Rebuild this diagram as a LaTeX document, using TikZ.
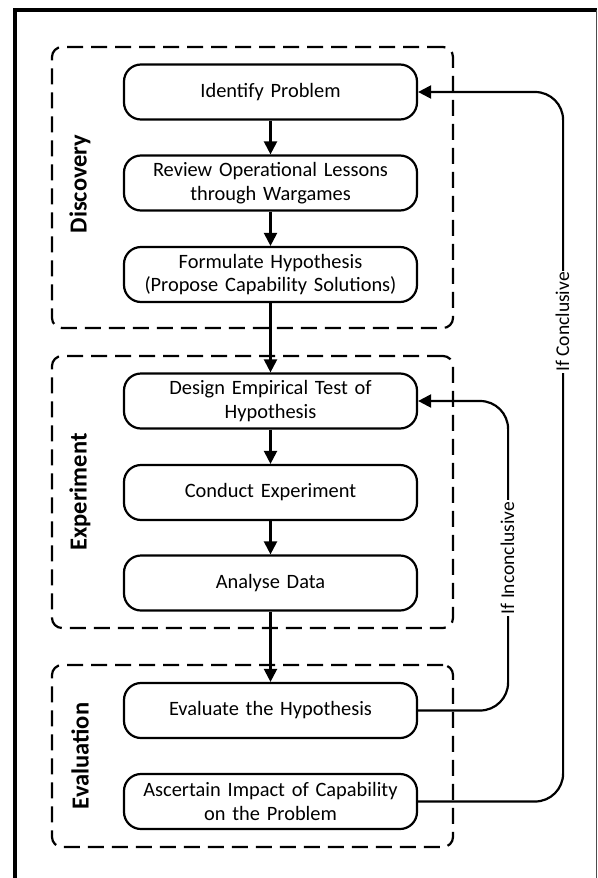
\documentclass[tikz,border=0pt]{standalone}
\usepackage{fontspec}
\setmainfont{Carlito}
\usetikzlibrary{arrows.meta}
\begin{document}
\begin{tikzpicture}[x=1pt,y=-1pt,
  stepbox/.style={draw, line width=2.2pt, rounded corners=17pt, minimum width=293pt, minimum height=55pt, text width=287pt, align=center, font=\fontsize{20.4}{23.5}\selectfont, inner sep=2pt},
  phase/.style={draw, dash pattern=on 16pt off 8pt, line width=2.2pt, rounded corners=10pt, minimum width=401pt, inner sep=0pt},
  phaselabel/.style={rotate=90, font=\bfseries\fontsize{24.5}{28}\selectfont, inner sep=0pt},
  flow/.style={line width=2.2pt, -{Triangle[length=13pt,width=13pt]}},
  back/.style={line width=2.2pt, rounded corners=28pt, -{Triangle[length=13pt,width=13pt]}},
  lbl/.style={rotate=90, fill=white, inner sep=1.5pt, font=\fontsize{19.5}{23}\selectfont}]
\useasboundingbox (0,0) rectangle (597,878);
% frame
\draw[line width=3.2pt] (15,878) -- (15,10) -- (597,10);
\draw[line width=0.8pt, black!70] (596,10) -- (596,878);
% phases
\node[phase, minimum height=281pt] (pdisc) at (252.5,187.5) {};
\node[phase, minimum height=272pt] (pexp) at (252.5,492) {};
\node[phase, minimum height=182pt] (peval) at (252.5,756) {};
\node[phaselabel] (ldisc) at (80,184) {Discovery};
\node[phaselabel] (lexp) at (80,492) {Experiment};
\node[phaselabel] (leval) at (80,756) {Evaluation};
% steps
\node[stepbox] (idp) at (270.5,92) {Identify Problem};
\node[stepbox] (rev) at (270.5,183) {Review Operational Lessons\\through Wargames};
\node[stepbox] (form) at (270.5,274.5) {Formulate Hypothesis\\(Propose Capability Solutions)};
\node[stepbox] (des) at (270.5,401) {Design Empirical Test of\\Hypothesis};
\node[stepbox] (con) at (270.5,492.5) {Conduct Experiment};
\node[stepbox] (ana) at (270.5,583) {Analyse Data};
\node[stepbox] (ev) at (270.5,710.5) {Evaluate the Hypothesis};
\node[stepbox] (asc) at (270.5,801.5) {Ascertain Impact of Capability\\on the Problem};
% flow
\draw[flow] (idp) -- (rev);
\draw[flow] (rev) -- (form);
\draw[flow] (form) -- (des);
\draw[flow] (des) -- (con);
\draw[flow] (con) -- (ana);
\draw[flow] (ana) -- (ev);
\draw[back] (ev.east) -- ++(90,0) |- (des.east);
\draw[back] (asc.east) -- ++(145,0) |- (idp.east);
\node[lbl] (linc) at (507.5,558) {If Inconclusive};
\node[lbl] (lcon) at (562.5,322) {If Conclusive};
\end{tikzpicture}
\end{document}
